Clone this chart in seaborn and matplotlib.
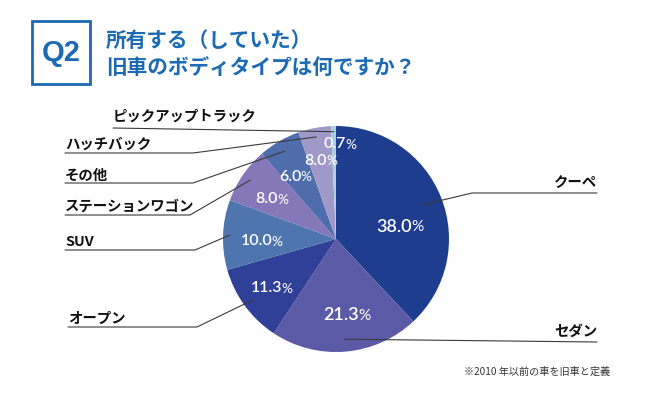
import numpy as np
import matplotlib
matplotlib.use("Agg")
import matplotlib.pyplot as plt
from matplotlib.lines import Line2D
from matplotlib.patches import Rectangle
import seaborn as sns

### Data
categories = ["クーペ", "セダン", "オープン", "SUV", "ステーションワゴン", "その他", "ハッチバック", "ピックアップトラック"]
pct_labels = ["38.0", "21.3", "11.3", "10.0", "8.0", "6.0", "8.0", "0.7"]
# slice sizes as drawn in the picture (the hatchback slice is drawn smaller than its 8.0 label)
slice_sizes = [38.0, 21.3, 11.3, 10.0, 8.0, 6.0, 4.7, 0.7]
slice_colors = ["#1f3d8f", "#5b5aa6", "#303f97", "#4e75ae", "#8478b9", "#4f6cab", "#9f99c9", "#a9d0e0"]
question = "Q2"
title_lines = ["所有する（していた）", "旧車のボディタイプは何ですか？"]
note = "※2010 年以前の車を旧車と定義"

sns.set_theme(style="white")
plt.rcParams["font.family"] = ["Noto Sans CJK JP", "DejaVu Sans"]

BLUE = "#1b6ab3"
LINE = "#3a3a3a"
W, H = 650, 396
fig = plt.figure(figsize=(6.5, 3.96), dpi=100)
fig.patch.set_facecolor("white")


def fx(x):
    return x / W


def fy(y):
    return 1 - y / H


### Header
fig.add_artist(Rectangle((fx(32), fy(84)), fx(58), 63 / H, transform=fig.transFigure,
                         facecolor="white", edgecolor=BLUE, linewidth=2.0))
fig.text(fx(61), fy(53), question, ha="center", va="center", color=BLUE,
         fontsize=21, fontweight="bold", family=["Liberation Sans", "DejaVu Sans"])
fig.text(fx(106), fy(40), title_lines[0], ha="left", va="center", color=BLUE,
         fontsize=14.9, fontweight="bold")
fig.text(fx(106), fy(68), title_lines[1], ha="left", va="center", color=BLUE,
         fontsize=14.9, fontweight="bold")

### Pie
cx, cy, R = 336, 239, 113
ax = fig.add_axes([fx(cx - R), fy(cy + R), 2 * R / W, 2 * R / H])
wedges, _ = ax.pie(slice_sizes, colors=slice_colors, startangle=90, counterclock=False,
                   radius=1, wedgeprops=dict(linewidth=0))
ax.set_xlim(-1, 1)
ax.set_ylim(-1, 1)
ax.set_aspect("equal")
ax.axis("off")

renderer = fig.canvas.get_renderer()

# percentage label spots: (radius, degrees clockwise from top)
pct_pos = [(0.577, 79), (0.68, 172), (0.715, 232.7), (0.66, 268.5),
           (0.67, 301.9), (0.66, 326.7), (0.705, 349), (0.84, 2.4)]
big = {0, 1}
for i, w in enumerate(wedges):
    r, cw = pct_pos[i]
    a = np.deg2rad(90 - cw)
    x, y = r * np.cos(a), r * np.sin(a)
    fs = 13 if i in big else 11.5
    t = ax.text(x, y, pct_labels[i], ha="left", va="center", color="white",
                fontsize=fs, fontweight="semibold", family=["Lato", "DejaVu Sans"])
    p = ax.annotate("%", xy=(1, 0), xycoords=t, xytext=(-0.6, 0.3), textcoords="offset points",
                    ha="left", va="bottom", color="white", fontsize=fs * 0.85,
                    family=["Lato", "DejaVu Sans"])
    b1 = t.get_window_extent(renderer)
    b2 = p.get_window_extent(renderer)
    total = b2.x1 - b1.x0
    t.set_x(x - total / 2 / R)

### Category labels with leader lines (pixel layout)
layout = {
    "クーペ": dict(xy=(597, 183), ha="right", path=[(597, 193), (472, 193)], r=0.82),
    "セダン": dict(xy=(597, 332), ha="right", path=[(597, 342)], r=0.89),
    "オープン": dict(xy=(68, 319), ha="left", path=[(68, 327), (197, 327)], r=0.92),
    "SUV": dict(xy=(65, 242), ha="left", path=[(65, 250), (195, 250)], r=0.94),
    "ステーションワゴン": dict(xy=(65, 207), ha="left", path=[(65, 215), (190, 215)], r=0.92),
    "その他": dict(xy=(65, 176), ha="left", path=[(65, 183), (193, 183)], r=0.9),
    "ハッチバック": dict(xy=(65, 145), ha="left", path=[(65, 153), (193, 153)], r=0.92),
    "ピックアップトラック": dict(xy=(113, 117), ha="left", path=[(113, 128)], r=0.95),
}
for name, w in zip(categories, wedges):
    lay = layout[name]
    fig.text(fx(lay["xy"][0]), fy(lay["xy"][1]), name, ha=lay["ha"], va="center",
             color="#111111", fontsize=10.4, fontweight="bold")
    mid = np.deg2rad((w.theta1 + w.theta2) / 2)
    disp = ax.transData.transform((lay["r"] * np.cos(mid), lay["r"] * np.sin(mid)))
    end = fig.transFigure.inverted().transform(disp)
    xs = [fx(p[0]) for p in lay["path"]] + [end[0]]
    ys = [fy(p[1]) for p in lay["path"]] + [end[1]]
    fig.add_artist(Line2D(xs, ys, transform=fig.transFigure, color=LINE, linewidth=0.8))

### Footnote
fig.text(fx(610), fy(372), note, ha="right", va="center", color="#333333", fontsize=7.3)

fig.savefig("out.png", dpi=100)
